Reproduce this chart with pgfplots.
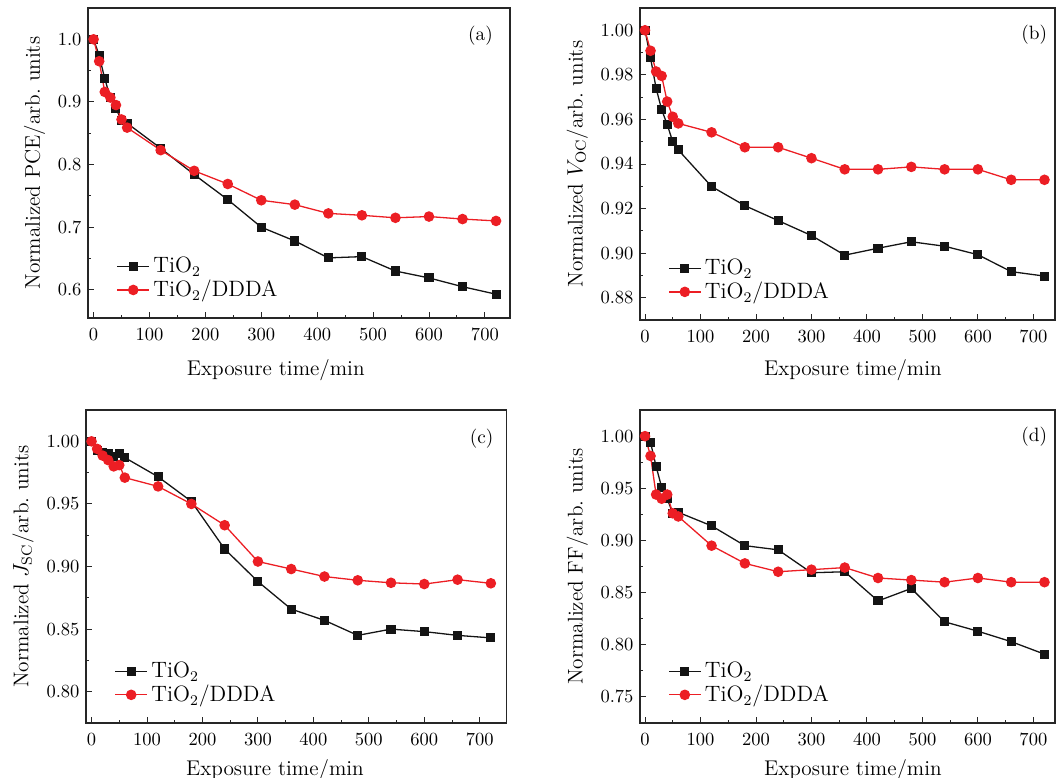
\documentclass[border=0pt]{standalone}
\usepackage{pgfplots}
\pgfplotsset{compat=1.18}
\definecolor{myred}{RGB}{236,30,36}
\definecolor{myblack}{RGB}{20,20,20}
\pgfplotsset{
  panel/.style={
    scale only axis,
    tick align=inside,
    tick pos=left,
    major tick length=3pt,
    minor tick length=1.8pt,
    minor x tick num=1,
    minor y tick num=1,
    xtick={0,100,...,700},
    axis line style={line width=0.6pt, black!85},
    every tick/.style={black!85, line width=0.5pt},
    tick label style={font=\fontsize{10.4}{12}\selectfont},
    xticklabel style={yshift=-2pt},
    label style={font=\fontsize{11.5}{13}\selectfont},
    xlabel={Exposure time/min},
    legend style={draw=none, fill=none, at={(0.063,0.04)}, anchor=south west,
      font=\fontsize{12}{13}\selectfont, row sep=-1.5pt, inner sep=1pt},
    legend cell align=left,
    clip=false,
  },
  tio/.style={myblack, line width=0.7pt, mark=square*, mark size=2.1pt, mark options={solid, fill=myblack}},
  ddda/.style={myred, line width=0.7pt, mark=*, mark size=2.5pt, mark options={solid, fill=myred}},
}
\begin{document}
\begin{tikzpicture}
\useasboundingbox (0pt,0pt) rectangle (570.24pt,-420.12pt);
% (a)
\begin{axis}[panel, at={(47.52pt,-171.72pt)}, anchor=south west,
  width=227.9pt, height=167.4pt,
  xmin=-10, xmax=745, ymin=0.555, ymax=1.05,
  ytick={0.6,0.7,0.8,0.9,1.0},
  yticklabel style={/pgf/number format/fixed, /pgf/number format/fixed zerofill, /pgf/number format/precision=1},
  xlabel style={anchor=center, at={(axis description cs:0.445,-0.168)}},
  ylabel={Normalized PCE/arb.\ units}]
\addplot[tio] coordinates {(0,1.0)(10,0.974)(20,0.937)(30,0.907)(40,0.889)(50,0.871)(60,0.866)(120,0.826)(180,0.784)(240,0.744)(300,0.700)(360,0.678)(420,0.651)(480,0.653)(540,0.630)(600,0.619)(660,0.605)(720,0.593)};
\addlegendentry{TiO$_2$}
\addplot[ddda] coordinates {(0,1.0)(10,0.965)(20,0.916)(30,0.907)(40,0.895)(50,0.872)(60,0.859)(120,0.823)(180,0.790)(240,0.769)(300,0.743)(360,0.736)(420,0.722)(480,0.719)(540,0.715)(600,0.717)(660,0.713)(720,0.710)};
\addlegendentry{TiO$_2$/DDDA}
\node[font=\fontsize{10.4}{12}\selectfont] at (rel axis cs:0.93,0.91) {(a)};
\end{axis}
% (b)
\begin{axis}[panel, at={(345.6pt,-172.8pt)}, anchor=south west,
  width=224.1pt, height=168.5pt,
  xmin=-9, xmax=739, ymin=0.87, ymax=1.01,
  ytick={0.88,0.90,...,1.001},
  yticklabel style={/pgf/number format/fixed, /pgf/number format/fixed zerofill, /pgf/number format/precision=2},
  xlabel style={anchor=center, at={(axis description cs:0.513,-0.16)}},
  ylabel={Normalized $V_{\mathrm{OC}}$/arb.\ units}]
\addplot[tio] coordinates {(0,1.0)(10,0.9876)(20,0.974)(30,0.9644)(40,0.9577)(50,0.950)(60,0.9463)(120,0.9299)(180,0.9213)(240,0.9146)(300,0.9079)(360,0.8991)(420,0.9022)(480,0.9051)(540,0.9031)(600,0.8993)(660,0.8917)(720,0.8897)};
\addlegendentry{TiO$_2$}
\addplot[ddda] coordinates {(0,1.0)(10,0.9908)(20,0.9815)(30,0.9795)(40,0.968)(50,0.9612)(60,0.9582)(120,0.9542)(180,0.9475)(240,0.9475)(300,0.9426)(360,0.9376)(420,0.9376)(480,0.9387)(540,0.9376)(600,0.9376)(660,0.9329)(720,0.9329)};
\addlegendentry{TiO$_2$/DDDA}
\node[font=\fontsize{10.4}{12}\selectfont] at (rel axis cs:0.95,0.915) {(b)};
\end{axis}
% (c)
\begin{axis}[panel, at={(46.44pt,-390.42pt)}, anchor=south west,
  width=227.3pt, height=169pt,
  xmin=-10, xmax=749, ymin=0.775, ymax=1.025,
  ytick={0.80,0.85,...,1.001},
  yticklabel style={/pgf/number format/fixed, /pgf/number format/fixed zerofill, /pgf/number format/precision=2},
  xlabel style={anchor=center, at={(axis description cs:0.449,-0.15)}},
  ylabel={Normalized $J_{\mathrm{SC}}$/arb.\ units}]
\addplot[tio] coordinates {(0,1.0)(10,0.9926)(20,0.991)(30,0.990)(40,0.988)(50,0.990)(60,0.987)(120,0.9717)(180,0.952)(240,0.914)(300,0.888)(360,0.866)(420,0.857)(480,0.845)(540,0.850)(600,0.848)(660,0.845)(720,0.843)};
\addlegendentry{TiO$_2$}
\addplot[ddda] coordinates {(0,1.0)(10,0.994)(20,0.9886)(30,0.985)(40,0.980)(50,0.981)(60,0.971)(120,0.964)(180,0.950)(240,0.933)(300,0.904)(360,0.898)(420,0.892)(480,0.889)(540,0.887)(600,0.886)(660,0.8895)(720,0.8866)};
\addlegendentry{TiO$_2$/DDDA}
\node[font=\fontsize{10.4}{12}\selectfont] at (rel axis cs:0.94,0.91) {(c)};
\end{axis}
% (d)
\begin{axis}[panel, at={(345.6pt,-390.42pt)}, anchor=south west,
  width=224.1pt, height=169pt,
  xmin=-9, xmax=739, ymin=0.725, ymax=1.025,
  ytick={0.75,0.80,...,1.001},
  yticklabel style={/pgf/number format/fixed, /pgf/number format/fixed zerofill, /pgf/number format/precision=2},
  xlabel style={anchor=center, at={(axis description cs:0.513,-0.15)}},
  ylabel={Normalized FF/arb.\ units}]
\addplot[tio] coordinates {(0,1.0)(10,0.994)(20,0.971)(30,0.951)(40,0.940)(50,0.926)(60,0.927)(120,0.914)(180,0.895)(240,0.891)(300,0.869)(360,0.870)(420,0.842)(480,0.854)(540,0.822)(600,0.813)(660,0.803)(720,0.791)};
\addlegendentry{TiO$_2$}
\addplot[ddda] coordinates {(0,1.0)(10,0.981)(20,0.944)(30,0.940)(40,0.944)(50,0.926)(60,0.923)(120,0.895)(180,0.878)(240,0.870)(300,0.872)(360,0.874)(420,0.864)(480,0.862)(540,0.860)(600,0.864)(660,0.860)(720,0.860)};
\addlegendentry{TiO$_2$/DDDA}
\node[font=\fontsize{10.4}{12}\selectfont] at (rel axis cs:0.95,0.915) {(d)};
\end{axis}
\end{tikzpicture}
\end{document}
